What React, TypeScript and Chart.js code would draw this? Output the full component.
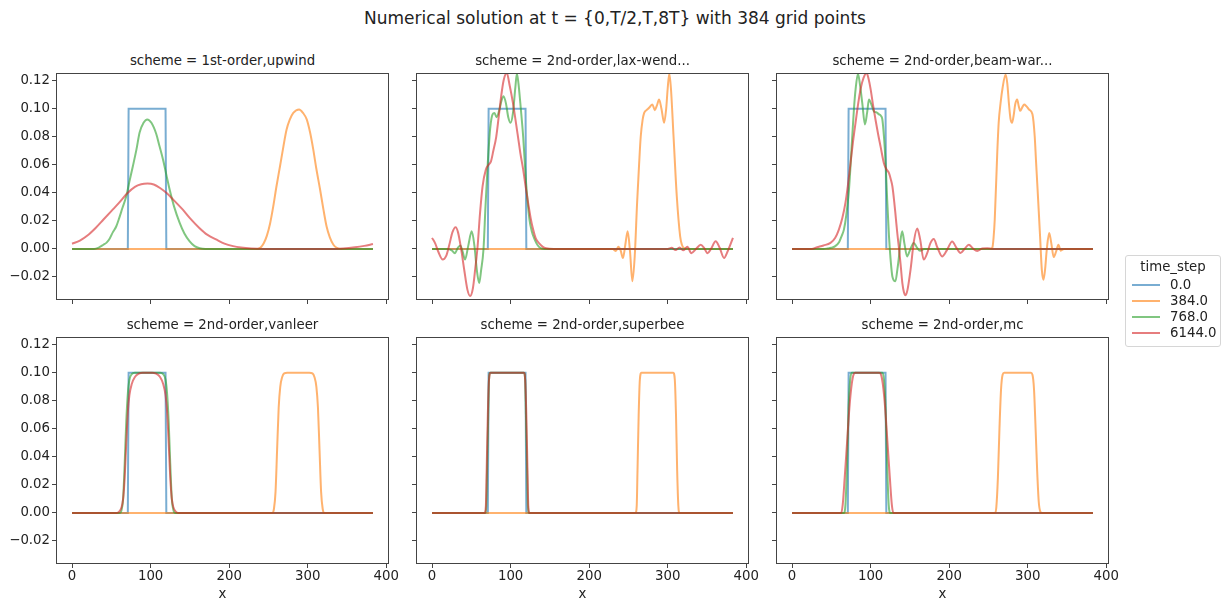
import React, { useEffect, useRef } from 'react';
import { Chart, registerables } from 'chart.js';

Chart.register(...registerables);

const FONT_FAMILY = '"DejaVu Sans", "Noto Sans", sans-serif';
const TEXT_COLOR = '#222';
const AXIS_COLOR = '#444';

const MAIN_TITLE = 'Numerical solution at t = {0,T/2,T,8T} with 384 grid points';
const LEGEND_TITLE = 'time_step';
const TIME_STEPS = ['0.0', '384.0', '768.0', '6144.0'];
const STEP_COLORS = [
  'rgba(31,119,180,0.6)',
  'rgba(255,127,14,0.6)',
  'rgba(44,160,44,0.6)',
  'rgba(214,39,40,0.6)',
];

const X_TICKS = [0, 100, 200, 300, 400];
const Y_TICKS = [-0.02, 0, 0.02, 0.04, 0.06, 0.08, 0.1, 0.12];
const X_LIMITS = [-19.15, 402.15];
const Y_LIMITS = [-0.0357, 0.1255];

type Pt = [number, number];

// t = 0: the initial square pulse (same in every scheme)
const initialPulse: Pt[] = [[0, 0], [71, 0], [72, 0.1], [119, 0.1], [120, 0], [383, 0]];

// 1st-order upwind
const upwind384: Pt[] = [
  [0, 0], [236, 0], [240, 0.001], [244, 0.004], [248, 0.0095], [252, 0.018], [256, 0.03], [260, 0.044],
  [264.7, 0.059], [269, 0.073], [273, 0.085], [277, 0.092], [281.6, 0.097], [289, 0.0995], [294, 0.097],
  [298.7, 0.0924], [303, 0.083], [307, 0.071], [311, 0.057], [315.7, 0.0424], [320, 0.028], [324, 0.016],
  [328, 0.0085], [332.7, 0.003], [337, 0.0008], [341, 0], [383, 0],
];
const upwind768: Pt[] = [
  [0, 0], [28, 0], [34, 0.001], [40, 0.003], [44, 0.0045], [48, 0.0075], [52, 0.012], [56.2, 0.016],
  [60, 0.022], [64, 0.029], [69, 0.0376], [73, 0.048], [77.4, 0.059], [82, 0.071], [86, 0.083], [91, 0.09],
  [95.7, 0.0924], [101, 0.09], [107.2, 0.082], [111, 0.074], [115.7, 0.064], [120, 0.053], [124.2, 0.0424],
  [130, 0.03], [137, 0.0186], [143, 0.011], [149.7, 0.0054], [156, 0.002], [162.5, 0.0005], [170, 0], [383, 0],
];
const upwind6144: Pt[] = [
  [0, 0.0037], [10, 0.006], [20, 0.0098], [30, 0.015], [40, 0.021], [50, 0.027], [60, 0.033], [70, 0.0395],
  [80, 0.0443], [88, 0.0461], [96, 0.0466], [104, 0.046], [112, 0.0435], [120, 0.04], [130, 0.0345],
  [141, 0.028], [150, 0.022], [162, 0.015], [172, 0.0102], [184, 0.0066], [194, 0.0038], [205, 0.002],
  [215, 0.001], [228, 0.0003], [245, 0], [325, 0], [345, 0.0004], [360, 0.0012], [372, 0.0022], [383, 0.0035],
];

// 2nd-order Lax-Wendroff
const laxWend384: Pt[] = [
  [0, 0], [230, 0], [234, -0.0015], [237, 0.0015], [240, -0.001], [243, -0.0065], [246, 0.003],
  [249, 0.0126], [252, -0.002], [255, -0.023], [258, -0.005], [261, 0.033], [263.5, 0.06], [265.6, 0.08],
  [268, 0.092], [270, 0.097], [273, 0.099], [276.3, 0.1007], [280.5, 0.103], [283.5, 0.099], [286, 0.102],
  [289, 0.1066], [292, 0.1], [295.4, 0.09], [298, 0.1], [300, 0.115], [302, 0.125], [304, 0.115],
  [307.4, 0.08], [311.5, 0.0376], [315.8, 0.009], [318, 0.003], [321, 0.0005], [326, 0], [383, 0],
];
const laxWend768: Pt[] = [
  [0, 0], [20, 0], [25, -0.001], [29, -0.003], [33, 0.001], [36, 0.0025], [39, -0.002], [42, -0.0076],
  [46, 0.002], [50.5, 0.0126], [54, 0.002], [57, -0.015], [60, -0.0243], [62.5, -0.015], [65.5, 0],
  [68, 0.03], [71, 0.062], [74, 0.086], [77, 0.096], [79.5, 0.097], [82, 0.094], [86, 0.1], [88.5, 0.106],
  [91, 0.109], [94, 0.104], [97, 0.094], [100, 0.09], [103, 0.097], [106, 0.115], [108, 0.125], [110, 0.118],
  [113, 0.1], [116, 0.08], [118, 0.062], [120, 0.045], [124, 0.021], [127, 0.0125], [130.7, 0.0066],
  [134, 0.003], [137, 0.001], [143, 0], [383, 0],
];
const laxWend6144: Pt[] = [
  [0, 0.0079], [4, 0.004], [8, -0.002], [13.6, -0.0076], [18, -0.005], [22, 0.003], [26, 0.012],
  [30, 0.0155], [33, 0.012], [37, 0], [41, -0.015], [45, -0.029], [48.5, -0.0335], [52, -0.028],
  [55, -0.014], [58, 0.002], [61, 0.025], [64.3, 0.0447], [68.5, 0.0566], [72, 0.06], [75, 0.0625],
  [78, 0.07], [81.7, 0.08], [85, 0.095], [88, 0.109], [91, 0.12], [95, 0.1257], [99, 0.116], [103, 0.104],
  [106, 0.093], [109.4, 0.08], [112.5, 0.068], [116, 0.0566], [119, 0.045], [122.3, 0.0329],
  [125.5, 0.022], [128.7, 0.0138], [132, 0.0075], [137, 0.0036], [141, 0.0015], [145, 0.0005], [155, 0],
  [300, 0], [305, 0.0008], [310, -0.0008], [315, 0.001], [320, -0.001], [325, 0.0015], [330, -0.003],
  [336, 0], [342, 0.003], [346, 0.001], [350.6, -0.003], [355, 0], [361, 0.0055], [366, 0.001],
  [371.7, -0.0065], [376, -0.002], [383, 0.0079],
];

// 2nd-order Beam-Warming
const beamWarm384: Pt[] = [
  [0, 0], [253, 0], [255, 0.001], [256.5, 0.008], [258, 0.021], [261.2, 0.0686], [263, 0.09],
  [265.4, 0.104], [268, 0.115], [271.8, 0.1245], [274, 0.118], [276, 0.104], [278, 0.093], [280, 0.09],
  [282, 0.095], [284, 0.103], [286.5, 0.1066], [288.5, 0.102], [290.5, 0.0985], [293, 0.101],
  [295.5, 0.103], [298, 0.102], [301.6, 0.0995], [306, 0.096], [308.9, 0.08], [310.5, 0.063],
  [312.3, 0.0447], [314, 0.027], [315.7, 0.009], [317.9, -0.0148], [320, -0.022], [322, -0.015],
  [324.3, 0], [327.3, 0.0114], [330, 0.004], [333, -0.0058], [336, -0.002], [339, 0.003], [342, -0.0012],
  [346, 0], [383, 0],
];
const beamWarm768: Pt[] = [
  [0, 0], [40, 0], [45, 0.0003], [50, 0.0008], [55, 0.002], [60, 0.005], [63, 0.009], [66, 0.0138],
  [69, 0.024], [72.4, 0.042], [74.5, 0.06], [76.6, 0.08], [78.8, 0.1], [80.9, 0.114], [83.9, 0.125],
  [86.5, 0.117], [89.4, 0.104], [92.8, 0.0888], [95.5, 0.097], [97.9, 0.1066], [101, 0.103],
  [104.3, 0.098], [107, 0.0975], [110.7, 0.096], [113, 0.095], [114.9, 0.0925], [117, 0.08],
  [119.1, 0.061], [121, 0.036], [123.4, 0.009], [125.5, -0.008], [127.7, -0.0196], [131.6, -0.023],
  [134, -0.015], [136.2, -0.005], [138, 0.006], [140.2, 0.0126], [143, 0.004], [146.4, -0.0053],
  [150, -0.001], [154.9, 0.0043], [159, 0.001], [163, -0.0013], [168, 0], [383, 0],
];
const beamWarm6144: Pt[] = [
  [0, 0], [25, 0], [32, 0.0012], [40, 0.0025], [48.9, 0.0043], [55, 0.008], [59.6, 0.0138], [64, 0.022],
  [68, 0.033], [71, 0.045], [74.5, 0.0614], [77.5, 0.076], [80.8, 0.09], [84, 0.103], [87.2, 0.114],
  [91, 0.122], [95, 0.1255], [97.5, 0.121], [100, 0.114], [103, 0.103], [106.3, 0.092], [109.5, 0.082],
  [112.7, 0.073], [117, 0.061], [120, 0.057], [123.4, 0.054], [125.5, 0.05], [127.7, 0.0447], [130, 0.034],
  [131.9, 0.0233], [134, 0.011], [136.2, 0], [138.5, -0.013], [140.4, -0.0243], [142.5, -0.031],
  [144.5, -0.033], [147, -0.029], [151, -0.014], [155, 0.005], [159.3, 0.0145], [163, 0.007],
  [167.6, -0.0076], [172, -0.003], [176, 0.004], [180.4, 0.0071], [185, 0.001], [191, -0.0053],
  [197, -0.001], [203.8, 0.0054], [209, 0.001], [214.4, -0.0029], [219.5, 0], [225, 0.003], [230, 0.0005],
  [235.7, -0.0015], [242, 0.0003], [248.5, 0.0005], [255, 0], [383, 0],
];

// 2nd-order with van Leer limiter
const vanLeer384: Pt[] = [
  [0, 0], [255, 0], [257, 0.003], [259, 0.015], [261, 0.045], [263, 0.075], [265, 0.09], [267.5, 0.097],
  [270, 0.0995], [274, 0.1], [302, 0.1], [306, 0.0995], [308.5, 0.097], [311, 0.09], [313, 0.075],
  [315, 0.045], [317, 0.015], [319, 0.003], [321, 0], [383, 0],
];
const vanLeer768: Pt[] = [
  [0, 0], [61, 0], [63, 0.002], [65, 0.01], [67, 0.035], [69, 0.065], [71, 0.085], [73, 0.095], [76, 0.099],
  [80, 0.1], [112, 0.1], [116, 0.099], [119, 0.095], [121, 0.085], [123, 0.065], [125, 0.035], [127, 0.01],
  [129, 0.002], [131, 0], [383, 0],
];
const vanLeer6144: Pt[] = [
  [0, 0], [57, 0], [60, 0.001], [63, 0.004], [65, 0.01], [67, 0.025], [69, 0.05], [71, 0.072], [73, 0.084],
  [76, 0.092], [80, 0.097], [85, 0.0993], [90, 0.1], [102, 0.1], [107, 0.0993], [112, 0.097], [116, 0.092],
  [119, 0.084], [121, 0.072], [123, 0.05], [125, 0.025], [127, 0.01], [129, 0.004], [132, 0.001], [135, 0],
  [383, 0],
];

// 2nd-order with superbee limiter
const superbee384: Pt[] = [
  [0, 0], [259, 0], [260.5, 0.005], [261.5, 0.03], [263, 0.07], [264.5, 0.095], [266.5, 0.1], [307, 0.1],
  [309, 0.095], [310.5, 0.07], [312, 0.03], [313.5, 0.005], [315, 0], [383, 0],
];
const superbee768: Pt[] = [
  [0, 0], [67.5, 0], [69, 0.005], [70, 0.03], [71.5, 0.07], [72.5, 0.095], [74, 0.1], [117, 0.1],
  [118.5, 0.095], [119.5, 0.07], [121, 0.03], [122, 0.005], [123.5, 0], [383, 0],
];
const superbee6144: Pt[] = [
  [0, 0], [67, 0], [68.5, 0.005], [69.5, 0.03], [71, 0.07], [72.5, 0.095], [74.5, 0.1], [117, 0.1],
  [118.5, 0.095], [120, 0.07], [121.5, 0.03], [122.5, 0.005], [124, 0], [383, 0],
];

// 2nd-order with MC limiter
const mc384: Pt[] = [
  [0, 0], [258.5, 0], [260, 0.004], [262, 0.025], [264, 0.06], [266, 0.088], [268, 0.0985], [270, 0.1],
  [304, 0.1], [306, 0.0985], [308, 0.088], [310, 0.06], [312, 0.03], [314, 0.008], [316, 0.001], [318, 0],
  [383, 0],
];
const mc768: Pt[] = [
  [0, 0], [66, 0], [68, 0.006], [70, 0.035], [72, 0.075], [74, 0.095], [76, 0.1], [115, 0.1], [117, 0.095],
  [119, 0.075], [121, 0.035], [123, 0.006], [125, 0], [383, 0],
];
const mc6144: Pt[] = [
  [0, 0], [62.5, 0], [64.5, 0.006], [67, 0.025], [70, 0.05], [73, 0.075], [76, 0.092], [78.5, 0.099],
  [80.5, 0.1], [111, 0.1], [113, 0.099], [115.5, 0.092], [118.5, 0.075], [121.5, 0.05], [124.5, 0.025],
  [127, 0.006], [129, 0], [383, 0],
];

const SCHEMES = [
  '1st-order,upwind',
  '2nd-order,lax-wend...',
  '2nd-order,beam-war...',
  '2nd-order,vanleer',
  '2nd-order,superbee',
  '2nd-order,mc',
];
const SCHEME_SERIES: Pt[][][] = [
  [initialPulse, upwind384, upwind768, upwind6144],
  [initialPulse, laxWend384, laxWend768, laxWend6144],
  [initialPulse, beamWarm384, beamWarm768, beamWarm6144],
  [initialPulse, vanLeer384, vanLeer768, vanLeer6144],
  [initialPulse, superbee384, superbee768, superbee6144],
  [initialPulse, mc384, mc768, mc6144],
];

// facet grid geometry (page pixels)
const COL_LEFT = [57, 417, 777];
const ROW_TOP = [73, 337];
const AX_W = 331;
const AX_H = 226;
const Y_AXIS_W = 57;
const X_AXIS_H = 40;
const PAD_TOP = 1;
const PAD_RIGHT = 24;

const TICK_FONT = { family: FONT_FAMILY, size: 13.3 };

const framePlugin = {
  id: 'axesFrame',
  afterDatasetsDraw(chart: any) {
    const { ctx, chartArea: a } = chart;
    ctx.save();
    ctx.strokeStyle = AXIS_COLOR;
    ctx.lineWidth = 1;
    const l = Math.round(a.left) - 0.5;
    const t = Math.round(a.top) + 0.5;
    const r = Math.round(a.right) + 0.5;
    const b = Math.round(a.bottom) + 0.5;
    ctx.strokeRect(l, t, r - l, b - t);
    ctx.restore();
  },
};

const fmtY = (v: number) => (v < 0 ? '\u2212' + Math.abs(v).toFixed(2) : v.toFixed(2));

function Facet({ index }: { index: number }) {
  const ref = useRef<HTMLCanvasElement>(null);
  const col = index % 3;
  const row = Math.floor(index / 3);
  const width = Y_AXIS_W + AX_W + PAD_RIGHT;
  const height = PAD_TOP + AX_H + X_AXIS_H;

  useEffect(() => {
    const series = SCHEME_SERIES[index];
    const chart = new Chart(ref.current as HTMLCanvasElement, {
      type: 'line',
      data: {
        datasets: series.map((pts, i) => ({
          label: TIME_STEPS[i],
          data: pts.map(([x, y]) => ({ x, y })),
          borderColor: STEP_COLORS[i],
          backgroundColor: STEP_COLORS[i],
          borderWidth: 2,
          pointRadius: 0,
          fill: false,
          tension: 0,
          cubicInterpolationMode: i === 0 ? 'default' : 'monotone',
          order: series.length - i,
        })),
      },
      options: {
        animation: false,
        responsive: false,
        maintainAspectRatio: false,
        events: [],
        layout: { padding: { left: 0, right: PAD_RIGHT, top: PAD_TOP, bottom: 0 } },
        plugins: {
          legend: { display: false },
          tooltip: { enabled: false },
          title: { display: false },
        },
        scales: {
          x: {
            type: 'linear',
            min: X_LIMITS[0],
            max: X_LIMITS[1],
            afterBuildTicks: (s: any) => {
              s.ticks = X_TICKS.map((v) => ({ value: v }));
            },
            afterFit: (s: any) => {
              s.height = X_AXIS_H;
              s.paddingLeft = 0;
              s.paddingRight = 0;
              s.paddingTop = 0;
              s.paddingBottom = 0;
            },
            ticks: {
              display: row === 1,
              autoSkip: false,
              maxRotation: 0,
              padding: 1,
              color: TEXT_COLOR,
              font: TICK_FONT,
              callback: (v: any) => String(v),
            },
            grid: { drawOnChartArea: false, drawTicks: true, tickLength: 5, color: AXIS_COLOR, lineWidth: 1 },
            border: { display: false },
            title: {
              display: row === 1,
              text: 'x',
              color: TEXT_COLOR,
              font: TICK_FONT,
              padding: { top: 0, bottom: 0 },
            },
          },
          y: {
            type: 'linear',
            min: Y_LIMITS[0],
            max: Y_LIMITS[1],
            afterBuildTicks: (s: any) => {
              s.ticks = Y_TICKS.map((v) => ({ value: v }));
            },
            afterFit: (s: any) => {
              s.width = Y_AXIS_W;
              s.paddingLeft = 0;
              s.paddingRight = 0;
              s.paddingTop = 0;
              s.paddingBottom = 0;
            },
            ticks: {
              display: col === 0,
              autoSkip: false,
              padding: 2,
              color: TEXT_COLOR,
              font: TICK_FONT,
              callback: (v: any) => fmtY(Number(v)),
            },
            grid: { drawOnChartArea: false, drawTicks: true, tickLength: 5, color: AXIS_COLOR, lineWidth: 1 },
            border: { display: false },
          },
        },
      },
      plugins: [framePlugin],
    } as any);
    return () => chart.destroy();
  }, [index]);

  return (
    <>
      <canvas
        ref={ref}
        width={width}
        height={height}
        style={{
          position: 'absolute',
          left: COL_LEFT[col] - Y_AXIS_W,
          top: ROW_TOP[row] - PAD_TOP,
          width,
          height,
        }}
      />
      <div
        style={{
          position: 'absolute',
          left: COL_LEFT[col],
          top: ROW_TOP[row] - 20,
          width: AX_W,
          height: 16,
          lineHeight: '16px',
          textAlign: 'center',
          fontFamily: FONT_FAMILY,
          fontSize: 13.3,
          color: TEXT_COLOR,
          whiteSpace: 'nowrap',
        }}
      >
        {'scheme = ' + SCHEMES[index]}
      </div>
    </>
  );
}

function Legend() {
  const rowTops = [21, 37, 53, 69];
  return (
    <div
      style={{
        position: 'absolute',
        left: 1125,
        top: 255,
        width: 96,
        height: 92,
        boxSizing: 'border-box',
        border: '1px solid #d6d6d6',
        borderRadius: 3,
        background: 'rgba(255,255,255,0.8)',
        fontFamily: FONT_FAMILY,
        fontSize: 13.3,
        color: TEXT_COLOR,
      }}
    >
      <div style={{ position: 'absolute', left: 0, top: 3, width: '100%', height: 16, lineHeight: '16px', textAlign: 'center' }}>
        {LEGEND_TITLE}
      </div>
      {TIME_STEPS.map((label, i) => (
        <div key={label} style={{ position: 'absolute', left: 0, top: rowTops[i], width: '100%', height: 16 }}>
          <div style={{ position: 'absolute', left: 6, top: 7, width: 28, height: 2, background: STEP_COLORS[i] }} />
          <div style={{ position: 'absolute', left: 44, top: 0, height: 16, lineHeight: '16px', whiteSpace: 'nowrap' }}>
            {label}
          </div>
        </div>
      ))}
    </div>
  );
}

export default function App() {
  return (
    <div style={{ position: 'absolute', left: 0, top: 0, width: 1230, height: 603, background: '#fff', overflow: 'hidden' }}>
      <div
        style={{
          position: 'absolute',
          left: 0,
          top: 8,
          width: 1230,
          height: 20,
          lineHeight: '20px',
          textAlign: 'center',
          fontFamily: FONT_FAMILY,
          fontSize: 17,
          color: TEXT_COLOR,
        }}
      >
        {MAIN_TITLE}
      </div>
      {SCHEMES.map((_, i) => (
        <Facet key={i} index={i} />
      ))}
      <Legend />
    </div>
  );
}
